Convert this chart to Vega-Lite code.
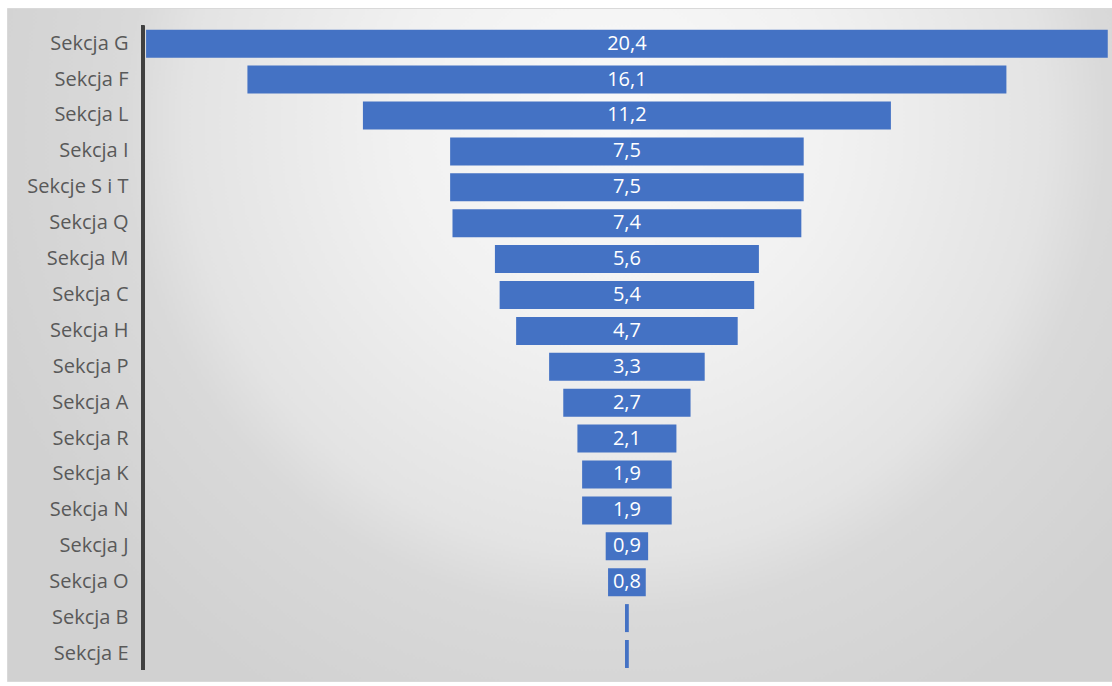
{
  "$schema": "https://vega.github.io/schema/vega-lite/v6.json",
  "width": 1105,
  "height": 673,
  "padding": {"left": 7, "top": 8, "right": 0, "bottom": 5},
  "background": "#ffffff",
  "view": {
    "stroke": "#d9d9d9",
    "strokeWidth": 1,
    "fill": {
      "gradient": "radial",
      "x1": 0.55, "y1": 0.3, "r1": 0,
      "x2": 0.55, "y2": 0.3, "r2": 0.6,
      "stops": [
        {"offset": 0, "color": "#f9f9f9"},
        {"offset": 0.33, "color": "#f1f1f1"},
        {"offset": 0.65, "color": "#e3e3e3"},
        {"offset": 0.74, "color": "#d9d9d9"},
        {"offset": 1, "color": "#d1d1d1"}
      ]
    }
  },
  "config": {
    "locale": {"number": {"decimal": ",", "thousands": " ", "grouping": [3], "currency": ["", " zł"]}},
    "font": "Open Sans"
  },
  "data": {
    "values": [
      {"sekcja": "Sekcja G", "v": 20.4},
      {"sekcja": "Sekcja F", "v": 16.1},
      {"sekcja": "Sekcja L", "v": 11.2},
      {"sekcja": "Sekcja I", "v": 7.5},
      {"sekcja": "Sekcje S i T", "v": 7.5},
      {"sekcja": "Sekcja Q", "v": 7.4},
      {"sekcja": "Sekcja M", "v": 5.6},
      {"sekcja": "Sekcja C", "v": 5.4},
      {"sekcja": "Sekcja H", "v": 4.7},
      {"sekcja": "Sekcja P", "v": 3.3},
      {"sekcja": "Sekcja A", "v": 2.7},
      {"sekcja": "Sekcja R", "v": 2.1},
      {"sekcja": "Sekcja K", "v": 1.9},
      {"sekcja": "Sekcja N", "v": 1.9},
      {"sekcja": "Sekcja J", "v": 0.9},
      {"sekcja": "Sekcja O", "v": 0.8},
      {"sekcja": "Sekcja B", "v": 0.08},
      {"sekcja": "Sekcja E", "v": 0.08}
    ]
  },
  "encoding": {
    "y": {
      "field": "sekcja",
      "type": "nominal",
      "sort": null,
      "scale": {"paddingInner": 0.22, "paddingOuter": 0.483, "align": 0.625},
      "axis": {
        "title": null,
        "orient": "left",
        "offset": -138,
        "domain": false,
        "ticks": false,
        "grid": false,
        "labelPadding": 17,
        "labelFontSize": 20,
        "labelColor": "#595959",
        "labelFont": "Open Sans"
      }
    }
  },
  "layer": [
    {
      "mark": {"type": "bar", "color": "#4472C4"},
      "encoding": {
        "x": {
          "field": "v",
          "type": "quantitative",
          "stack": "center",
          "scale": {"domain": [-2.95, 20.49], "nice": false, "zero": false},
          "axis": null
        }
      }
    },
    {
      "mark": {"type": "rule", "color": "#404040", "strokeWidth": 3, "yOffset": -18, "y2Offset": 16},
      "encoding": {
        "x": {"datum": -0.07},
        "y": {"datum": "Sekcja G"},
        "y2": {"datum": "Sekcja E"}
      }
    },
    {
      "transform": [{"filter": "datum.v >= 0.5"}],
      "mark": {"type": "text", "color": "#ffffff", "fontSize": 20, "font": "Open Sans", "baseline": "middle", "align": "center"},
      "encoding": {
        "x": {"datum": 10.2},
        "text": {"field": "v", "type": "quantitative", "format": ".1f"}
      }
    }
  ]
}
